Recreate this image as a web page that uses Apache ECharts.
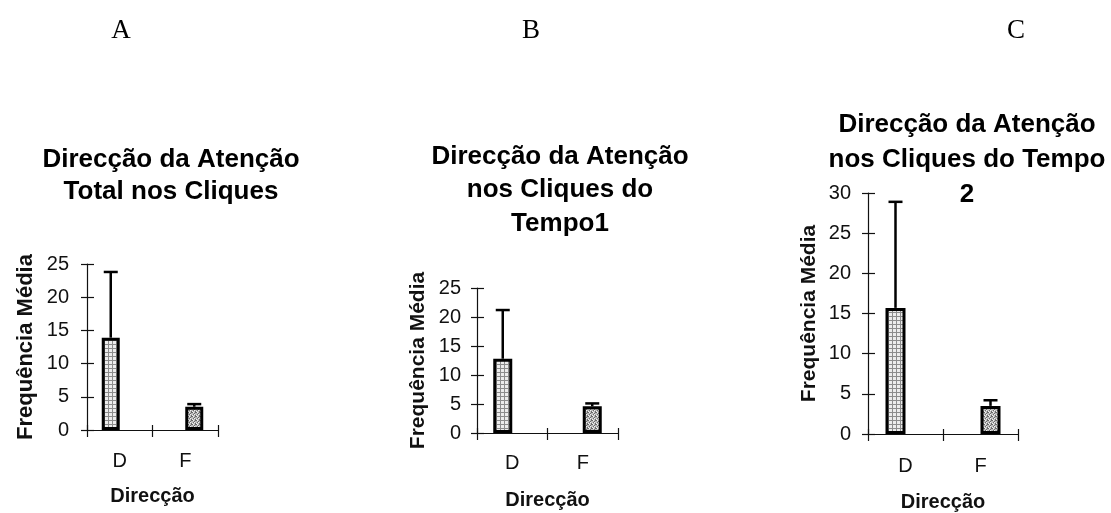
<!DOCTYPE html>
<html><head><meta charset="utf-8">
<script src="https://cdn.jsdelivr.net/npm/echarts@6/dist/echarts.min.js"></script>
<style>html,body{margin:0;padding:0;background:#fff}#c{width:1111px;height:513px}</style>
</head><body><div id="c"></div>
<script>
// ---------- data ----------
const categories = ['D', 'F'];
const panelLetters = ['A', 'B', 'C'];
const panelTitles = [
  'Direcção da Atenção\nTotal nos Cliques',
  'Direcção da Atenção\nnos Cliques do\nTempo1',
  'Direcção da Atenção\nnos Cliques do Tempo\n2'
];
const meansA = [13.9, 3.5];
const errTopA = [23.8, 3.9];
const meansB = [12.8, 4.6];
const errTopB = [21.2, 5.1];
const meansC = [15.7, 3.5];
const errTopC = [28.9, 4.2];
const yMaxes = [25, 25, 30];
const yInterval = 5;
const xAxisName = 'Direcção';
const yAxisName = 'Frequência Média';

// ---------- layout / style ----------
const FONT = 'Liberation Sans, Arial, sans-serif';
const layout = [
  {grid:{left:87, top:264, width:131, height:166}, titleX:166, titleTop:139, lh:32, tfs:26, lfs:20, bw:18, yNameGap:50, xNameGap:56, xLblMargin:21, yLblMargin:18, nfs:22, xfs:20},
  {grid:{left:477, top:288, width:141, height:145}, titleX:555, titleTop:135, lh:33.5, tfs:26, lfs:20, bw:19, yNameGap:48, xNameGap:57, xLblMargin:20, yLblMargin:16, nfs:21, xfs:20},
  {grid:{left:868, top:193, width:150, height:241}, titleX:962, titleTop:102, lh:35, tfs:26, lfs:20, bw:20, yNameGap:48, xNameGap:58, xLblMargin:22, yLblMargin:17, nfs:21, xfs:20}
];
const letterX = [116, 526, 1011];

function makePattern(kind){
  const c = document.createElement('canvas');
  c.width = 4; c.height = 4;
  const g = c.getContext('2d');
  if (kind === 0) {
    g.fillStyle = '#ececec'; g.fillRect(0,0,4,4);
    g.fillStyle = '#8c8c8c';
    g.fillRect(0,0,4,1); g.fillRect(0,0,1,4);
  } else {
    g.fillStyle = '#bdbdbd'; g.fillRect(0,0,4,4);
    g.fillStyle = '#6a6a6a';
    [[0,0],[2,1],[1,2],[3,3],[3,0]].forEach(p=>g.fillRect(p[0],p[1],1,1));
    g.fillStyle = '#f2f2f2';
    [[1,0],[0,3],[2,2]].forEach(p=>g.fillRect(p[0],p[1],1,1));
  }
  return {image: c, repeat: 'repeat'};
}
const patD = makePattern(0), patF = makePattern(1);

function errRender(bw){
  return function(params, api){
    const idx = api.value(0);
    const base = api.coord([idx, api.value(1)]);
    const top = api.coord([idx, api.value(2)]);
    const x = base[0] + (idx === 0 ? -1 : 1) * bw / 2;
    const cap = 7;
    return {type:'group', children:[
      {type:'line', shape:{x1:x, y1:base[1], x2:x, y2:top[1]}, style:{stroke:'#000', lineWidth:2.5}},
      {type:'line', shape:{x1:x-cap, y1:top[1], x2:x+cap, y2:top[1]}, style:{stroke:'#000', lineWidth:2.5}}
    ]};
  };
}

const meansAll = [meansA, meansB, meansC];
const errAll = [errTopA, errTopB, errTopC];

const option = {
  backgroundColor:'#fff', animation:false,
  title:[], grid:[], xAxis:[], yAxis:[], series:[]
};

panelLetters.forEach((L, i) => {
  option.title.push({text:L, left:letterX[i], top:12, textAlign:'center',
    textStyle:{fontFamily:'Liberation Serif, Times New Roman, serif', fontSize:27, fontWeight:'normal', color:'#000'}});
});

layout.forEach((ly, i) => {
  option.title.push({text:panelTitles[i], left:ly.titleX, top:ly.titleTop, textAlign:'center',
    textStyle:{fontFamily:FONT, fontSize:ly.tfs, fontWeight:'bold', color:'#000', lineHeight:ly.lh}});
  option.grid.push(Object.assign({containLabel:false}, ly.grid));
  const lineStyle = {color:'#111', width:1.2};
  option.xAxis.push({type:'category', gridIndex:i, data:categories, position:'bottom',
    axisLine:{show:true, lineStyle}, axisTick:{show:true, length:7, lineStyle},
    axisLabel:{color:'#111', fontFamily:FONT, fontSize:ly.xfs, margin:ly.xLblMargin},
    name:xAxisName, nameLocation:'middle', nameGap:ly.xNameGap,
    nameTextStyle:{fontFamily:FONT, fontSize:20, fontWeight:'bold', color:'#111'},
    splitLine:{show:false}});
  option.xAxis.push({type:'category', gridIndex:i, data:categories, position:'bottom',
    axisLine:{show:false}, axisTick:{show:true, inside:true, length:5, lineStyle},
    axisLabel:{show:false}, splitLine:{show:false}});
  option.yAxis.push({type:'value', gridIndex:i, min:0, max:yMaxes[i], interval:yInterval, position:'left',
    axisLine:{show:true, lineStyle}, axisTick:{show:true, length:6, lineStyle},
    axisLabel:{color:'#111', fontFamily:FONT, fontSize:ly.lfs, margin:ly.yLblMargin},
    name:yAxisName, nameLocation:'middle', nameGap:ly.yNameGap, nameRotate:90,
    nameTextStyle:{fontFamily:FONT, fontSize:ly.nfs, fontWeight:'bold', color:'#111'},
    splitLine:{show:false}});
  option.yAxis.push({type:'value', gridIndex:i, min:0, max:yMaxes[i], interval:yInterval, position:'left',
    axisLine:{show:false}, axisTick:{show:true, inside:true, length:7, lineStyle},
    axisLabel:{show:false}, splitLine:{show:false}});
  const m = meansAll[i], e = errAll[i];
  const bar = (k, pat) => ({type:'bar', xAxisIndex:2*i, yAxisIndex:2*i, barWidth:ly.bw, barGap:'0%',
    data:m.map((v, j) => j === k ? v : '-'),
    itemStyle:{color:pat, borderColor:'#000', borderWidth:3}, z:2});
  option.series.push(bar(0, patD), bar(1, patF));
  option.series.push({type:'custom', xAxisIndex:2*i, yAxisIndex:2*i, z:3,
    renderItem:errRender(ly.bw), data:m.map((v, j) => [j, v, e[j]])});
});

const chart = echarts.init(document.getElementById('c'), null, {renderer:'canvas'});
chart.setOption(option);
</script></body></html>
